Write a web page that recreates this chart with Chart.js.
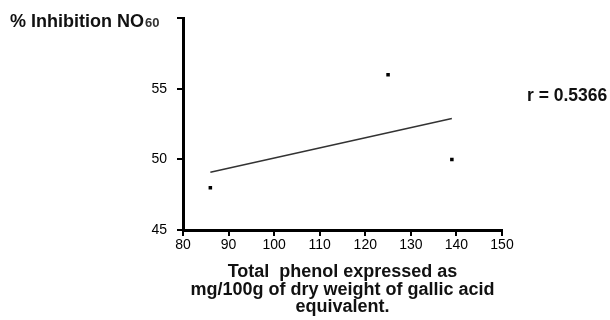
<!DOCTYPE html>
<html>
<head>
<meta charset="utf-8">
<script src="https://cdn.jsdelivr.net/npm/chart.js@4"></script>
<style>
  body { margin: 0; background: #fff; }
  #wrap { width: 610px; height: 320px; }
</style>
</head>
<body>
<div id="wrap"><canvas id="chart" width="610" height="320"></canvas></div>
<script>
// Data
const phenolValues = [86, 125, 139];
const inhibitionValues = [48, 56, 50];
const fitX = [86, 139];
const fitY = [49.1, 52.9];
const xTicks = [80, 90, 100, 110, 120, 130, 140, 150];
const yTicks = [45, 50, 55, 60];
const yLabel = "% Inhibition NO";
const xLabel = ["Total  phenol expressed as", "mg/100g of dry weight of gallic acid", "equivalent."];
const rLabel = "r = 0.5366";

const FONT = "'Liberation Sans', Arial, sans-serif";
const yTop = yTicks[yTicks.length - 1];

// Extra text: y-axis caption at top left (the top tick "60" sits right after it)
// and the correlation coefficient on the right
const textPlugin = {
    id: "extraText",
    afterDraw(chart) {
        const ctx = chart.ctx;
        const area = chart.chartArea;
        const yScale = chart.scales.y;
        ctx.save();
        ctx.fillStyle = "#111";
        ctx.textBaseline = "alphabetic";
        ctx.textAlign = "left";
        ctx.font = "bold 18px " + FONT;
        const base = yScale.getPixelForValue(yTop) + 9;
        ctx.fillText(yLabel, 10, base);
        const w = ctx.measureText(yLabel).width;
        ctx.font = "bold 13px " + FONT;
        ctx.fillStyle = "#333";
        ctx.fillText(String(yTop), 10 + w + 1, base);
        ctx.fillStyle = "#111";
        ctx.font = "bold 17.5px " + FONT;
        ctx.textBaseline = "middle";
        ctx.fillText(rLabel, area.right + 25, 96);
        ctx.restore();
    }
};

const points = phenolValues.map((x, i) => ({ x: x, y: inhibitionValues[i] }));
const fitLine = fitX.map((x, i) => ({ x: x, y: fitY[i] }));

new Chart(document.getElementById("chart").getContext("2d"), {
    type: "scatter",
    data: {
        datasets: [{
            data: points,
            pointStyle: "rect",
            pointRadius: 2.5,
            backgroundColor: "#000",
            borderColor: "#000",
            borderWidth: 0
        }, {
            data: fitLine,
            showLine: true,
            pointRadius: 0,
            borderColor: "#333",
            borderWidth: 1.5
        }]
    },
    options: {
        responsive: false,
        animation: false,
        layout: { padding: { top: 16, right: 108, left: 0, bottom: 0 } },
        plugins: { legend: { display: false }, tooltip: { enabled: false } },
        scales: {
            x: {
                min: 80,
                max: 150,
                afterBuildTicks: s => { s.ticks = xTicks.map(v => ({ value: v })); },
                afterFit: s => { s.height = 90; },
                border: { display: true, color: "#000", width: 3 },
                grid: { drawOnChartArea: false, drawTicks: true, tickLength: 6, color: "#000", lineWidth: 2 },
                ticks: { color: "#000", padding: 1, font: { family: FONT, size: 14 } },
                title: {
                    display: true,
                    text: xLabel,
                    color: "#111",
                    font: { family: FONT, size: 18, weight: "bold", lineHeight: "17.5px" },
                    padding: { top: 0, bottom: 4 }
                }
            },
            y: {
                min: 45,
                max: 60,
                afterBuildTicks: s => { s.ticks = yTicks.map(v => ({ value: v })); },
                afterFit: s => { s.width = 183; },
                border: { display: true, color: "#000", width: 3 },
                grid: { drawOnChartArea: false, drawTicks: true, tickLength: 6, color: "#000", lineWidth: 2 },
                ticks: {
                    color: "#000",
                    padding: 10,
                    font: { family: FONT, size: 14 },
                    callback: v => (v === yTop ? "" : v)
                }
            }
        }
    },
    plugins: [textPlugin]
});
</script>
</body>
</html>
